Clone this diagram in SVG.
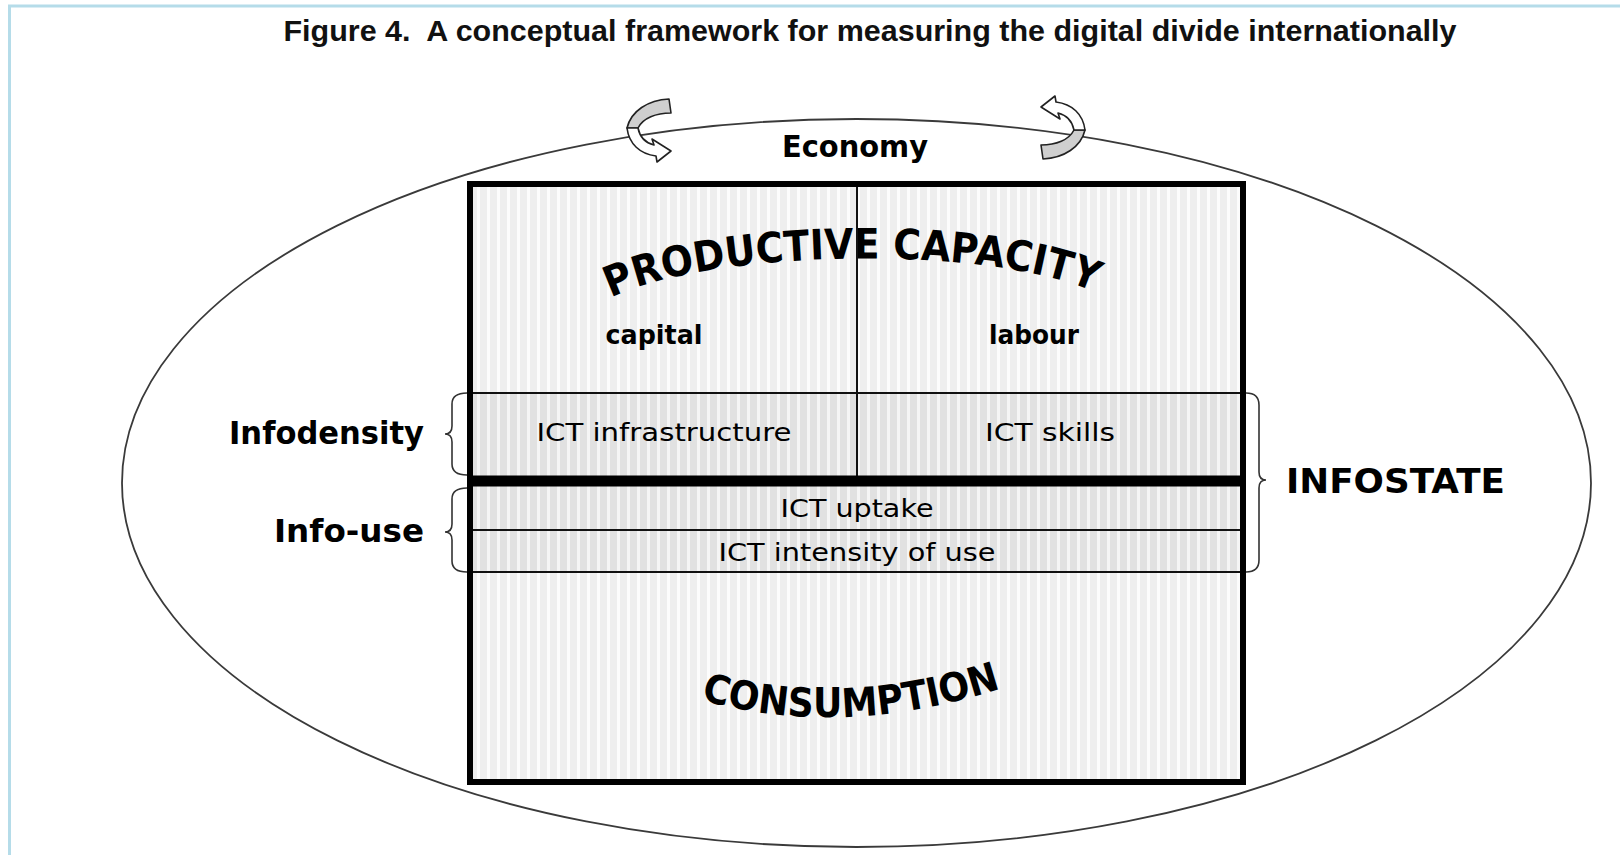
<svg xmlns="http://www.w3.org/2000/svg" width="1620" height="855" viewBox="0 0 1620 855">
<defs>
<pattern id="stripeL" width="10" height="10" patternUnits="userSpaceOnUse"><rect width="10" height="10" fill="#eeeeee"/><rect x="7" width="3" height="10" fill="#fcfcfc"/></pattern>
<pattern id="stripeD" width="10" height="10" patternUnits="userSpaceOnUse"><rect width="10" height="10" fill="#e1e1e1"/><rect x="7" width="3" height="10" fill="#f5f5f5"/></pattern>
<path id="arcPC" d="M 600,304 C 690,247 1010,242 1105,298"/>
<path id="arcCons" d="M 688,696 Q 840,744 1014,684"/>
<style>
.lbl{font-family:"DejaVu Sans","Liberation Sans",sans-serif;fill:#000;}
.b{font-weight:bold;}
.ict{font-size:25px;}
.thin{stroke:#111;stroke-width:2;fill:none;}
.brace{stroke:#333;stroke-width:1.6;fill:none;}
.arrow{stroke:#222;stroke-width:1.6;stroke-linejoin:round;}
</style>
</defs>
<rect width="1620" height="855" fill="#fff"/>
<g id="frame" stroke="#b5dce9" stroke-width="3" fill="none">
<line x1="8" y1="6" x2="1620" y2="6"/>
<line x1="9.5" y1="5" x2="9.5" y2="855"/>
</g>
<g id="title">
<text x="870" y="41" text-anchor="middle" font-family="Liberation Sans, Arial, sans-serif" font-weight="bold" font-size="30" fill="#111" style="white-space:pre" textLength="1173" lengthAdjust="spacingAndGlyphs">Figure 4.  A conceptual framework for measuring the digital divide internationally</text>
</g>
<g id="economy">
<ellipse cx="856.5" cy="483" rx="734.5" ry="364" fill="none" stroke="#3a3a3a" stroke-width="1.8"/>
<text class="lbl b" x="855" y="157" font-size="30" text-anchor="middle" textLength="146" lengthAdjust="spacingAndGlyphs">Economy</text>
</g>
<g id="cycle-arrows">
<g id="arrow-left">
<path class="arrow" fill="#cfcfcf" d="M 669,99 L 671,113 C 656,113 643,118 638,128 L 627,128 C 631,111 648,100 669,99 Z"/>
<path class="arrow" fill="#fff" d="M 627,128 L 638,128 C 640,138 646,143 654,145 L 652,139 L 671,151 L 657,162 L 656,156 C 640,154 629,144 627,128 Z"/>
</g>
<g id="arrow-right" transform="translate(1712,258) rotate(180)">
<path class="arrow" fill="#cfcfcf" d="M 669,99 L 671,113 C 656,113 643,118 638,128 L 627,128 C 631,111 648,100 669,99 Z"/>
<path class="arrow" fill="#fff" d="M 627,128 L 638,128 C 640,138 646,143 654,145 L 652,139 L 671,151 L 657,162 L 656,156 C 640,154 629,144 627,128 Z"/>
</g>
</g>
<g id="productive-capacity">
<rect x="470" y="184" width="773" height="209" fill="url(#stripeL)"/>
<text class="lbl b" font-size="42"><textPath href="#arcPC" startOffset="50%" text-anchor="middle" textLength="492" lengthAdjust="spacingAndGlyphs">PRODUCTIVE CAPACITY</textPath></text>
<text class="lbl b" x="654" y="344" font-size="27" text-anchor="middle" textLength="97" lengthAdjust="spacingAndGlyphs">capital</text>
<text class="lbl b" x="1034" y="344" font-size="27" text-anchor="middle" textLength="90" lengthAdjust="spacingAndGlyphs">labour</text>
</g>
<g id="ict-infrastructure">
<rect x="470" y="393" width="387" height="88" fill="url(#stripeD)"/>
<text class="lbl ict" x="664" y="441" text-anchor="middle" textLength="255" lengthAdjust="spacingAndGlyphs">ICT infrastructure</text>
</g>
<g id="ict-skills">
<rect x="857" y="393" width="386" height="88" fill="url(#stripeD)"/>
<text class="lbl ict" x="1050" y="441" text-anchor="middle" textLength="130" lengthAdjust="spacingAndGlyphs">ICT skills</text>
</g>
<g id="ict-uptake">
<rect x="470" y="481" width="773" height="49" fill="url(#stripeD)"/>
<text class="lbl ict" x="857" y="517" text-anchor="middle" textLength="153" lengthAdjust="spacingAndGlyphs">ICT uptake</text>
</g>
<g id="ict-intensity">
<rect x="470" y="530" width="773" height="42" fill="url(#stripeD)"/>
<text class="lbl ict" x="857" y="561" text-anchor="middle" textLength="277" lengthAdjust="spacingAndGlyphs">ICT intensity of use</text>
</g>
<g id="consumption">
<rect x="470" y="572" width="773" height="210" fill="url(#stripeL)"/>
<text class="lbl b" font-size="40"><textPath href="#arcCons" startOffset="50%" text-anchor="middle" textLength="305" lengthAdjust="spacingAndGlyphs">CONSUMPTION</textPath></text>
</g>
<g id="box-lines">
<line class="thin" x1="857" y1="184" x2="857" y2="481"/>
<line class="thin" x1="470" y1="393" x2="1243" y2="393"/>
<line x1="470" y1="481" x2="1243" y2="481" stroke="#000" stroke-width="11"/>
<line class="thin" x1="470" y1="530" x2="1243" y2="530"/>
<line class="thin" x1="470" y1="572" x2="1243" y2="572"/>
<rect x="470" y="184" width="773" height="598" fill="none" stroke="#000" stroke-width="6"/>
</g>
<g id="infodensity">
<text class="lbl b" x="424" y="444" font-size="32" text-anchor="end" textLength="195" lengthAdjust="spacingAndGlyphs">Infodensity</text>
</g>
<g id="info-use">
<text class="lbl b" x="424" y="542" font-size="32" text-anchor="end" textLength="150" lengthAdjust="spacingAndGlyphs">Info-use</text>
</g>
<g id="infostate">
<text class="lbl b" x="1286" y="493" font-size="34" textLength="219" lengthAdjust="spacingAndGlyphs">INFOSTATE</text>
</g>
<g id="connectors">
<path class="brace" d="M 467,393 Q 452,393 452,404 L 452,426 Q 452,434 445,434 Q 452,434 452,442 L 452,464 Q 452,475 467,475"/>
<path class="brace" d="M 467,488 Q 452,488 452,499 L 452,524 Q 452,532 445,532 Q 452,532 452,540 L 452,561 Q 452,572 467,572"/>
<path class="brace" d="M 1246,393 Q 1259,393 1259,405 L 1259,472 Q 1259,480 1266,480 Q 1259,480 1259,488 L 1259,560 Q 1259,572 1246,572"/>
</g>
</svg>
